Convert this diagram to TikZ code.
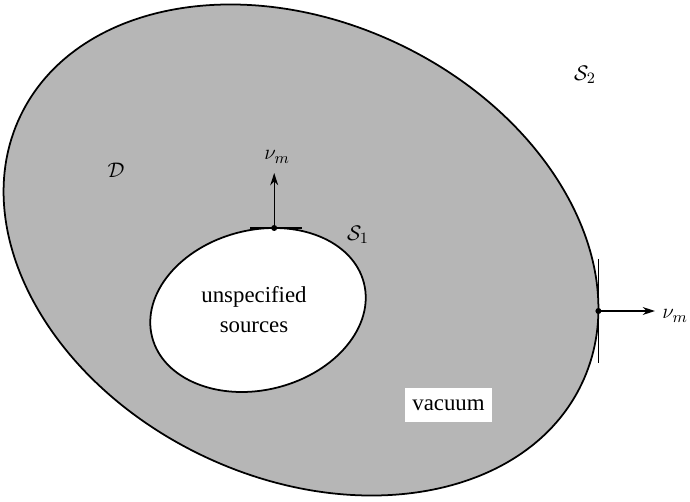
\documentclass[tikz,border=0pt]{standalone}
\usepackage{fontspec}
\setmainfont{Liberation Serif}
\usetikzlibrary{positioning, arrows.meta, calc}
\definecolor{regiongray}{RGB}{182,182,182}

\begin{document}
\begin{tikzpicture}[x=0.02cm, y=0.02cm,
  boundary/.style={draw, line width=1pt},
  normalarrow/.style={-{Stealth[length=7pt, width=4.5pt]}, line width=0.7pt},
  tangentline/.style={line width=1pt},
  labeltext/.style={font=\fontsize{13}{17}\selectfont, align=center}
]
  \useasboundingbox (0,0) rectangle (690,501);
  % the two surfaces
  \draw[boundary, fill=regiongray, rotate around={-25.5:(301,251)}] (301,251) ellipse [x radius=311, y radius=228];
  \draw[boundary, fill=white, rotate around={14.3:(258,191)}] (258,191) ellipse [x radius=109.3, y radius=79.9];
  \coordinate (top1) at (274.2,273);
  \coordinate (right2) at (598.4,190);
  \coordinate (tip1) at (274.2,328);
  \coordinate (tip2) at (655,190);
  % tangents and normals
  \draw[tangentline] ($(top1)+(-24,0)$) -- ($(top1)+(28,0)$);
  \draw[tangentline] ($(right2)+(0,52)$) -- ($(right2)+(0,-52)$);
  \draw[normalarrow] (top1) -- (tip1);
  \draw[normalarrow] (right2) -- (tip2);
  \fill (top1) circle (3);
  \fill (right2) circle (3);
  \node[labeltext] (nu1) at (277,344) {$\nu_m$};
  \node[labeltext, anchor=west, inner sep=0pt] (nu2) at (662,185) {$\nu_m$};
  \node[labeltext] (regD) at (116,331) {$\mathcal{D}$};
  \node[labeltext] (s1) at (358,266) {$\mathcal{S}_1$};
  \node[labeltext] (s2) at (585,426) {$\mathcal{S}_2$};
  \node[labeltext] (src) at (254,191) {unspecified\\sources};
  \node[labeltext, fill=white, minimum width=1.74cm, minimum height=0.68cm] (vac) at (448.5,96) {vacuum};
\end{tikzpicture}
\end{document}
